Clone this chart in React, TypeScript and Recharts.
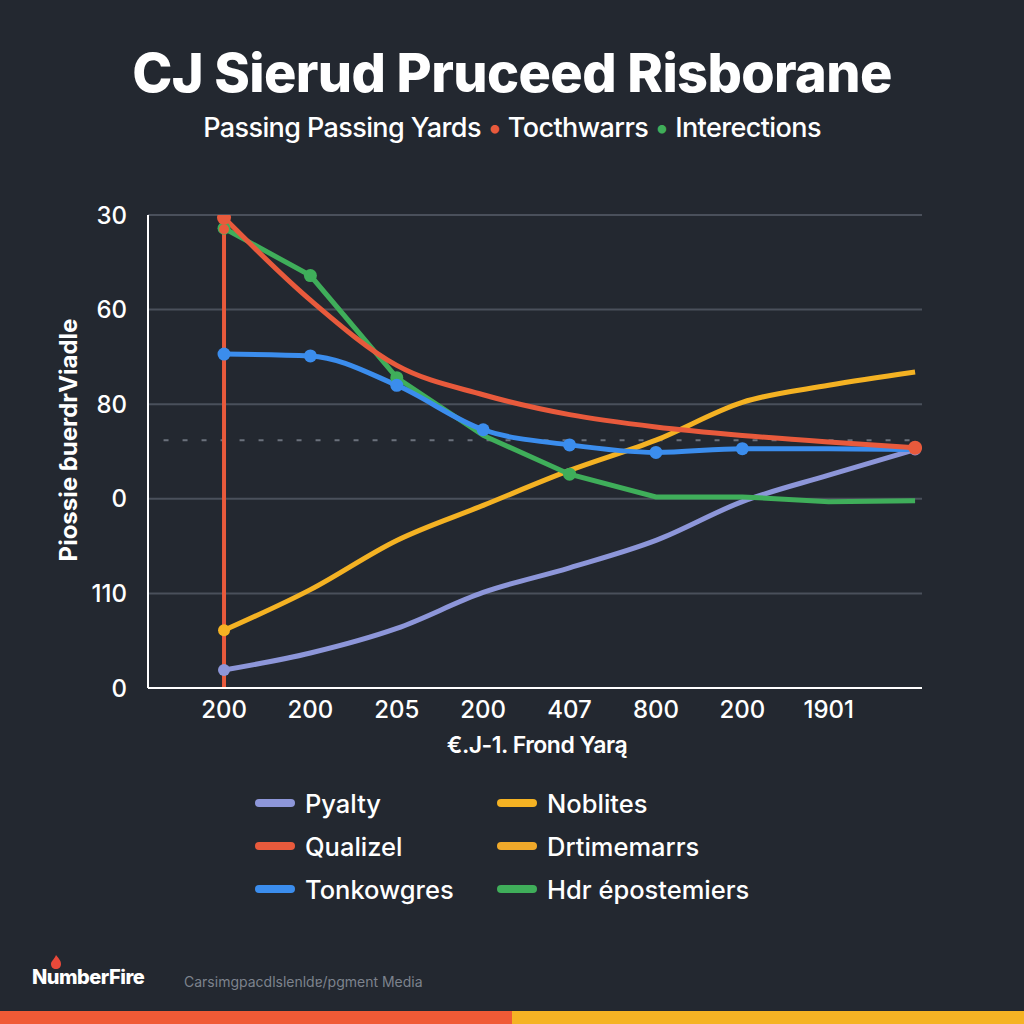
import React from 'react';
import {
  LineChart,
  Line,
  XAxis,
  YAxis,
  CartesianGrid,
  ReferenceLine,
} from 'recharts';

// category tick labels (last point has no label)
const xLabels = ['200', '200', '205', '200', '407', '800', '200', '1901', ''];
// y tick labels, bottom to top
const yLabels = ['0', '110', '0', '80', '60', '30'];

const pyalty = [0.19, 0.37, 0.63, 1.01, 1.27, 1.56, 1.97, 2.25, 2.52];
const qualizel = [4.97, 4.1, 3.41, 3.1, 2.89, 2.76, 2.67, 2.6, 2.54];
const qualizelStem = [0, 4.85];
const tonkowgres = [3.53, 3.51, 3.2, 2.73, 2.57, 2.49, 2.53, 2.53, 2.52];
const noblites = [0.61, 1.04, 1.56, 1.93, 2.3, 2.62, 3.02, 3.2, 3.34];
const hdrepostemiers = [4.86, 4.36, 3.28, 2.67, 2.26, 2.02, 2.02, 1.97, 1.98];
const dashedLevel = 2.62;

// which points carry a marker
const pyaltyDots = [0, 8];
const qualizelDots = [0, 8];
const tonkowgresDots = [0, 1, 2, 3, 4, 5, 6];
const noblitesDots = [0];
const hdrDots = [0, 1, 2, 4];

const legendItems = [
  { name: 'Pyalty', color: '#8d96d9' },
  { name: 'Noblites', color: '#f4b223' },
  { name: 'Qualizel', color: '#e85a3c' },
  { name: 'Drtimemarrs', color: '#f0a92a' },
  { name: 'Tonkowgres', color: '#3b8ded' },
  { name: 'Hdr épostemiers', color: '#3fae5a' },
];

const toPoints = (vals: number[]) => vals.map((y, x) => ({ x, y }));

const makeDot = (marked: number[], color: string, r: number) => (props: any) => {
  const { cx, cy, index } = props;
  if (!marked.includes(index)) return <g key={`d-${index}`} />;
  return <circle key={`d-${index}`} cx={cx} cy={cy} r={r} fill={color} />;
};

const BG = '#232830';
const font = 'Inter, "Noto Sans", sans-serif';

export default function App() {
  return (
    <div
      style={{
        position: 'absolute',
        left: 0,
        top: 0,
        width: 1024,
        height: 1024,
        background: BG,
        fontFamily: font,
        color: '#fff',
        overflow: 'hidden',
      }}
    >
      <div
        style={{
          position: 'absolute',
          top: 40,
          width: 1024,
          textAlign: 'center',
          fontSize: 54,
          fontWeight: 800,
          letterSpacing: -0.6,
        }}
      >
        CJ Sierud Pruceed Risborane
      </div>
      <div
        style={{
          position: 'absolute',
          top: 111,
          width: 1024,
          textAlign: 'center',
          fontSize: 27,
          fontWeight: 500,
          letterSpacing: -0.6,
        }}
      >
        Passing Passing Yards <span style={{ color: '#e85a3c' }}>•</span> Tocthwarrs{' '}
        <span style={{ color: '#3fae5a' }}>•</span> Interections
      </div>

      <div style={{ position: 'absolute', left: 0, top: 0 }}>
        <LineChart
          width={1024}
          height={740}
          margin={{ top: 215, right: 102, bottom: 0, left: 88 }}
        >
          <CartesianGrid vertical={false} stroke="#4a505b" strokeWidth={2} />
          <XAxis
            type="number"
            dataKey="x"
            domain={[-0.88, 8.08]}
            ticks={[0, 1, 2, 3, 4, 5, 6, 7]}
            tickFormatter={(v: number) => xLabels[v]}
            allowDataOverflow
            axisLine={{ stroke: '#ffffff', strokeWidth: 2 }}
            tickLine={false}
            tickSize={0}
            tickMargin={13}
            height={52}
            tick={{ fill: '#ffffff', fontSize: 24, fontWeight: 500 }}
          />
          <YAxis
            type="number"
            dataKey="y"
            domain={[0, 5]}
            ticks={[0, 1, 2, 3, 4, 5]}
            tickFormatter={(v: number) => yLabels[v]}
            allowDataOverflow
            axisLine={{ stroke: '#ffffff', strokeWidth: 2 }}
            tickLine={false}
            tickSize={0}
            tickMargin={21}
            width={60}
            tick={{ fill: '#ffffff', fontSize: 24, fontWeight: 500 }}
          />
          <ReferenceLine
            segment={[
              { x: -0.7, y: dashedLevel },
              { x: 8, y: dashedLevel },
            ]}
            stroke="#6b717c"
            strokeWidth={2}
            strokeDasharray="5 14"
          />
          <Line
            data={toPoints(pyalty)}
            dataKey="y"
            type="monotone"
            stroke="#8d96d9"
            strokeWidth={5}
            dot={makeDot(pyaltyDots, '#8d96d9', 6)}
            isAnimationActive={false}
          />
          <Line
            data={toPoints(noblites)}
            dataKey="y"
            type="monotone"
            stroke="#f4b223"
            strokeWidth={5}
            dot={makeDot(noblitesDots, '#f4b223', 6)}
            isAnimationActive={false}
          />
          <Line
            data={toPoints(hdrepostemiers)}
            dataKey="y"
            type="linear"
            stroke="#3fae5a"
            strokeWidth={5}
            dot={makeDot(hdrDots, '#3fae5a', 6.5)}
            isAnimationActive={false}
          />
          <Line
            data={toPoints(tonkowgres)}
            dataKey="y"
            type="monotone"
            stroke="#3b8ded"
            strokeWidth={5}
            dot={makeDot(tonkowgresDots, '#3b8ded', 6.5)}
            isAnimationActive={false}
          />
          <Line
            data={qualizelStem.map((y) => ({ x: 0, y }))}
            dataKey="y"
            type="linear"
            stroke="#e85a3c"
            strokeWidth={4}
            dot={makeDot([1], '#e85a3c', 5)}
            isAnimationActive={false}
          />
          <Line
            data={toPoints(qualizel)}
            dataKey="y"
            type="monotone"
            stroke="#e85a3c"
            strokeWidth={5}
            dot={makeDot(qualizelDots, '#e85a3c', 7)}
            isAnimationActive={false}
          />
        </LineChart>
      </div>

      <div
        style={{
          position: 'absolute',
          left: 68,
          top: 440,
          transform: 'translate(-50%, -50%) rotate(-90deg)',
          whiteSpace: 'nowrap',
          fontSize: 24,
          fontWeight: 700,
        }}
      >
        Piossie ɓuerdrViadle
      </div>

      <div
        style={{
          position: 'absolute',
          top: 731,
          left: 0,
          width: 1074,
          textAlign: 'center',
          fontSize: 23,
          fontWeight: 600,
          letterSpacing: -0.5,
        }}
      >
        €.J-1. Frond Yarą
      </div>

      <div
        style={{
          position: 'absolute',
          left: 255,
          top: 786,
          display: 'grid',
          gridTemplateColumns: '242px 260px',
          rowGap: 9,
        }}
      >
        {legendItems.map((item) => (
          <div key={item.name} style={{ display: 'flex', alignItems: 'center', height: 34 }}>
            <div
              style={{
                width: 40,
                height: 8,
                borderRadius: 4,
                background: item.color,
                marginRight: 10,
              }}
            />
            <span style={{ fontSize: 25.5, fontWeight: 500 }}>{item.name}</span>
          </div>
        ))}
      </div>

      <div style={{ position: 'absolute', left: 32, top: 965, fontSize: 20, fontWeight: 800, letterSpacing: -0.5 }}>
        NumberFire
      </div>
      <svg style={{ position: 'absolute', left: 50, top: 955 }} width={12} height={14} viewBox="0 0 12 14">
        <path d="M6 0 C8 3 11 5 11 9 C11 12 9 14 6 14 C3 14 1 12 1 9 C1 6 4 5 6 0 Z" fill="#e8493a" />
      </svg>
      <div style={{ position: 'absolute', left: 184, top: 973, fontSize: 14, color: '#7d838d' }}>
        Carsimɡpaсdlslenldɐ/pgment Media
      </div>
      <div style={{ position: 'absolute', left: 0, top: 1011, width: 512, height: 13, background: '#f05a36' }} />
      <div style={{ position: 'absolute', left: 512, top: 1011, width: 512, height: 13, background: '#f5b324' }} />
    </div>
  );
}
